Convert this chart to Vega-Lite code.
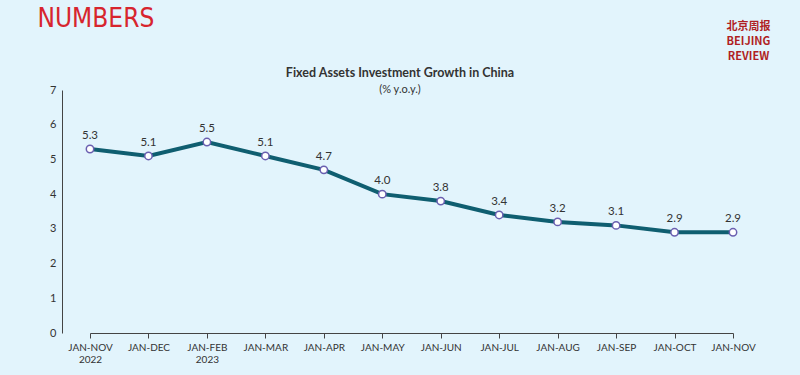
{
  "$schema": "https://vega.github.io/schema/vega-lite/v6.json",
  "autosize": "none",
  "width": 692,
  "height": 243,
  "padding": {"left": 62, "top": 90, "right": 46, "bottom": 42},
  "background": "#e2f4fc",
  "config": {
    "font": "Lato",
    "view": {"stroke": null},
    "axis": {"grid": false, "domainColor": "#444444", "tickColor": "#444444", "labelColor": "#333333", "labelFont": "Lato"}
  },
  "title": {
    "text": "Fixed Assets Investment Growth in China",
    "subtitle": "(% y.o.y.)",
    "anchor": "middle",
    "frame": "group",
    "dx": -8,
    "offset": -90,
    "font": "Lato",
    "fontSize": 12.5,
    "fontWeight": "bold",
    "color": "#333333",
    "subtitleFont": "Lato",
    "subtitleFontSize": 11,
    "subtitleColor": "#333333",
    "subtitlePadding": 5
  },
  "data": {
    "values": [
      {"month": "JAN-NOV 2022", "value": 5.3},
      {"month": "JAN-DEC", "value": 5.1},
      {"month": "JAN-FEB 2023", "value": 5.5},
      {"month": "JAN-MAR", "value": 5.1},
      {"month": "JAN-APR", "value": 4.7},
      {"month": "JAN-MAY", "value": 4.0},
      {"month": "JAN-JUN", "value": 3.8},
      {"month": "JAN-JUL", "value": 3.4},
      {"month": "JAN-AUG", "value": 3.2},
      {"month": "JAN-SEP", "value": 3.1},
      {"month": "JAN-OCT", "value": 2.9},
      {"month": "JAN-NOV", "value": 2.9}
    ]
  },
  "encoding": {
    "x": {
      "field": "month",
      "type": "ordinal",
      "sort": null,
      "scale": {"type": "point", "padding": 0, "range": [28, 671]},
      "axis": {
        "title": null,
        "labelAngle": 0,
        "labelExpr": "split(datum.label, ' ')",
        "labelFontSize": 10,
        "labelLineHeight": 12,
        "labelPadding": 4,
        "tickSize": 5,
        "labelBaseline": "top"
      }
    }
  },
  "layer": [
    {
      "mark": {"type": "line", "color": "#0f5e70", "strokeWidth": 4},
      "encoding": {
        "y": {
          "field": "value",
          "type": "quantitative",
          "scale": {"domain": [0, 7], "nice": false},
          "axis": {
            "values": [0, 1, 2, 3, 4, 5, 6, 7],
            "ticks": false,
            "labelPadding": 6,
            "labelFontSize": 11,
            "title": "NUMBERS",
            "titleAngle": 0,
            "titleAlign": "left",
            "titleBaseline": "top",
            "titleX": -25,
            "titleY": -85,
            "titleFont": "DejaVu Sans Condensed",
            "titleFontSize": 26,
            "titleFontWeight": "normal",
            "titleColor": "#d7252e"
          }
        }
      }
    },
    {
      "mark": {"type": "point", "filled": true, "fill": "#ffffff", "stroke": "#6a5fb0", "strokeWidth": 1.5, "size": 55, "opacity": 1},
      "encoding": {
        "y": {"field": "value", "type": "quantitative", "axis": null}
      }
    },
    {
      "mark": {"type": "text", "dy": -13, "fontSize": 11.5, "color": "#333333", "font": "Lato"},
      "encoding": {
        "y": {"field": "value", "type": "quantitative", "axis": null},
        "text": {"field": "value", "type": "quantitative", "format": ".1f"}
      }
    },
    {
      "mark": {"type": "point", "opacity": 0},
      "encoding": {
        "y": {
          "field": "value",
          "type": "quantitative",
          "axis": {
            "orient": "right",
            "labels": false,
            "ticks": false,
            "domain": false,
            "title": ["北京周报", "BEIJING", "REVIEW"],
            "titleAngle": 0,
            "titleAlign": "center",
            "titleBaseline": "top",
            "titleX": -6,
            "titleY": -70,
            "titleFont": "Noto Sans CJK SC",
            "titleFontSize": 11,
            "titleFontWeight": "bold",
            "titleLineHeight": 15,
            "titleColor": "#b01f24"
          }
        }
      }
    }
  ],
  "resolve": {"axis": {"y": "independent"}}
}
